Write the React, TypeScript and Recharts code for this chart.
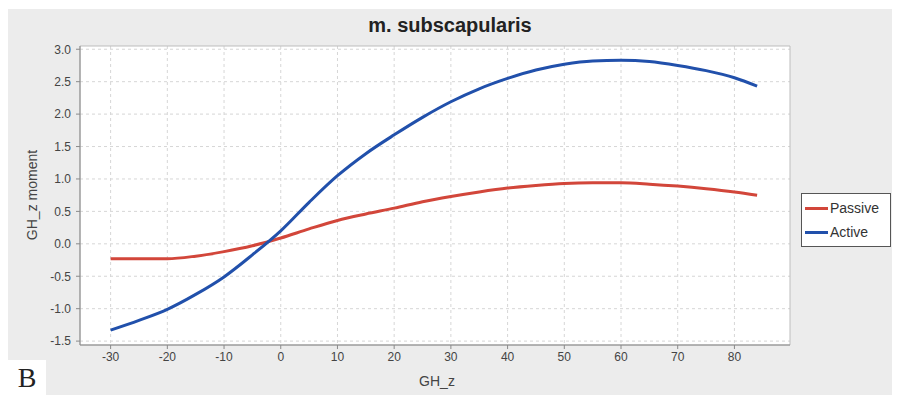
import { CartesianGrid, Line, LineChart, ReferenceArea, XAxis, YAxis } from "recharts";

const angles = [-30, -25, -20, -15, -10, -5, 0, 5, 10, 15, 20, 25, 30, 35, 40, 45, 50, 55, 60, 65, 70, 75, 80, 84];
const passive = [-0.23, -0.23, -0.23, -0.19, -0.12, -0.03, 0.09, 0.23, 0.36, 0.46, 0.55, 0.65, 0.73, 0.8, 0.86, 0.9, 0.93, 0.94, 0.94, 0.92, 0.89, 0.85, 0.8, 0.75];
const active = [-1.33, -1.18, -1.01, -0.78, -0.51, -0.17, 0.2, 0.64, 1.05, 1.39, 1.68, 1.95, 2.19, 2.39, 2.55, 2.68, 2.77, 2.82, 2.83, 2.81, 2.75, 2.67, 2.56, 2.43];
const xTicks = [-30, -20, -10, 0, 10, 20, 30, 40, 50, 60, 70, 80];
const yTicks = [-1.5, -1.0, -0.5, 0.0, 0.5, 1.0, 1.5, 2.0, 2.5, 3.0];

const RED = "#d2463a";
const BLUE = "#2150ab";
const FONT = "'Liberation Sans', Arial, sans-serif";

const data = angles.map((a, i) => ({ angle: a, passive: passive[i], active: active[i] }));

export default function App() {
  return (
    <div style={{ position: "relative", top: 1, width: 885, height: 387, background: "#ececec", fontFamily: FONT }}>
      <LineChart width={885} height={387} data={data} margin={{ top: 37, right: 103, left: 0, bottom: 0 }}>
        <CartesianGrid fill="#fff" stroke="#d6d6d6" strokeDasharray="3 3" horizontalValues={yTicks} verticalValues={xTicks} />
        <ReferenceArea x1={-35.4} x2={89.8} y1={-1.56} y2={3.05} fill="none" stroke="#bdbdbd" ifOverflow="visible" />
        <XAxis
          dataKey="angle"
          type="number"
          domain={[-35.4, 89.8]}
          ticks={xTicks}
          height={51}
          tickSize={4}
          tickMargin={3}
          stroke="#8a8a8a"
          tick={{ fill: "#444", fontSize: 12, fontFamily: FONT }}
          allowDataOverflow
        />
        <YAxis
          type="number"
          domain={[-1.56, 3.05]}
          ticks={yTicks}
          width={72}
          tickSize={4}
          tickMargin={5}
          stroke="#8a8a8a"
          tickFormatter={(v: number) => v.toFixed(1)}
          tick={{ fill: "#444", fontSize: 12, fontFamily: FONT }}
          allowDataOverflow
        />
        <Line type="monotone" dataKey="passive" stroke={RED} strokeWidth={3} dot={false} isAnimationActive={false} />
        <Line type="monotone" dataKey="active" stroke={BLUE} strokeWidth={3} dot={false} isAnimationActive={false} />
      </LineChart>

      <div style={{ position: "absolute", left: 442, top: 16, transform: "translate(-50%, -50%)", fontSize: 20, fontWeight: "bold", color: "#222", whiteSpace: "nowrap" }}>
        m. subscapularis
      </div>
      <div style={{ position: "absolute", left: 24, top: 186, transform: "translate(-50%, -50%) rotate(-90deg)", fontSize: 14, color: "#444", whiteSpace: "nowrap" }}>
        GH_z moment
      </div>
      <div style={{ position: "absolute", left: 429, top: 372, transform: "translate(-50%, -50%)", fontSize: 14, color: "#444", whiteSpace: "nowrap" }}>
        GH_z
      </div>

      <div style={{ position: "absolute", left: 793, top: 184, width: 88, height: 52, background: "#fff", border: "1px solid #555", fontSize: 14, color: "#333" }}>
        {[
          { name: "Passive", color: RED },
          { name: "Active", color: BLUE },
        ].map((item, i) => (
          <div key={item.name} style={{ position: "absolute", left: 3, top: 5 + i * 24, display: "flex", alignItems: "center", height: 18 }}>
            <span style={{ display: "inline-block", width: 23, height: 3, background: item.color, marginRight: 2 }} />
            <span>{item.name}</span>
          </div>
        ))}
      </div>

      <div style={{ position: "absolute", left: 0, top: 351, width: 38, height: 36, background: "#fff", fontFamily: "'Liberation Serif', 'DejaVu Serif', serif", fontSize: 28, color: "#222", display: "flex", alignItems: "center", justifyContent: "center" }}>
        B
      </div>
    </div>
  );
}
